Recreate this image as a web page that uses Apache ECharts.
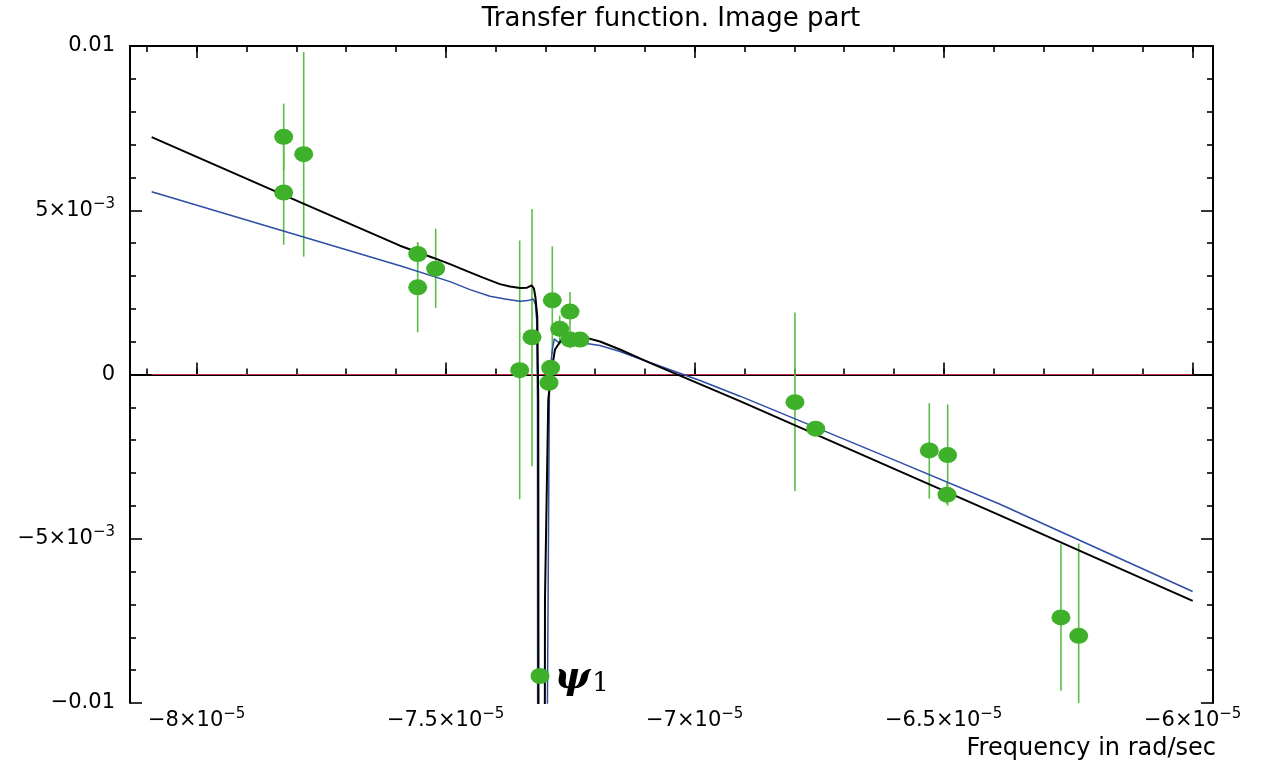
<!DOCTYPE html>
<html>
<head>
<meta charset="utf-8">
<script src="https://cdn.jsdelivr.net/npm/echarts@6/dist/echarts.min.js"></script>
<style>
  html, body { margin: 0; padding: 0; background: #ffffff; }
  #chart { width: 1262px; height: 764px; }
</style>
</head>
<body>
<div id="chart"></div>
<script>
// ---- axis ticks and labels -------------------------------------------------
const xTicks = [-8e-5, -7.5e-5, -7e-5, -6.5e-5, -6e-5];
const xTickMantissa = ['−8×10', '−7.5×10', '−7×10', '−6.5×10', '−6×10'];
const xTickExponent = ['−5', '−5', '−5', '−5', '−5'];
const yTicks = [-0.01, -0.005, 0, 0.005, 0.01];
const yTickMantissa = ['−0.01', '−5×10', '0', '5×10', '0.01'];
const yTickExponent = ['', '−3', '', '−3', ''];

// ---- measured transfer function (imaginary part) with error bars ------------
const measFreq = [-7.8253e-5, -7.8253e-5, -7.7851e-5, -7.5562e-5, -7.5562e-5, -7.5201e-5,
  -7.3514e-5, -7.3267e-5, -7.2859e-5, -7.2892e-5, -7.2926e-5, -7.2711e-5, -7.2504e-5,
  -7.2504e-5, -7.2303e-5, -7.3106e-5, -6.7986e-5, -6.7570e-5, -6.5289e-5, -6.4920e-5,
  -6.4934e-5, -6.2645e-5, -6.2289e-5];
const measIm = [7.234e-3, 5.541e-3, 6.708e-3, 3.669e-3, 2.653e-3, 3.222e-3,
  0.131e-3, 1.134e-3, 2.258e-3, 0.204e-3, -0.252e-3, 1.389e-3, 1.915e-3,
  1.064e-3, 1.064e-3, -9.179e-3, -0.842e-3, -1.650e-3, -2.310e-3, -2.453e-3,
  -3.657e-3, -7.395e-3, -7.954e-3];
const measLow = [6.201e-3, 3.951e-3, 3.587e-3, 3.313e-3, 1.286e-3, 2.027e-3,
  -3.799e-3, -2.796e-3, 0.617e-3, 0.204e-3, -0.252e-3, 0.912e-3, 1.277e-3,
  0.80e-3, 1.064e-3, -9.179e-3, -3.547e-3, -1.650e-3, -3.778e-3, -3.994e-3,
  -3.951e-3, -9.626e-3, -10.49e-3];
const measHigh = [8.246e-3, 7.143e-3, 9.818e-3, 4.021e-3, 4.021e-3, 4.438e-3,
  4.082e-3, 5.036e-3, 3.900e-3, 0.204e-3, -0.252e-3, 1.793e-3, 2.514e-3,
  1.30e-3, 1.064e-3, -9.179e-3, 1.884e-3, -1.650e-3, -0.872e-3, -0.912e-3,
  -3.300e-3, -5.167e-3, -5.146e-3];
const modeIndex = 15;          // measured point next to the ψ1 mode
const modeLabel = ['ψ', '1'];

// ---- model curves ------------------------------------------------------------
const blackFreq = [-8.0904e-5, -7.7926e-5, -7.5918e-5, -7.5255e-5, -7.4914e-5, -7.4572e-5,
  -7.4251e-5, -7.3910e-5, -7.3709e-5, -7.3508e-5, -7.3367e-5, -7.3273e-5, -7.3227e-5,
  -7.3197e-5, -7.3161e-5, -7.3141e-5, -7.3127e-5, -7.3026e-5, -7.3006e-5, -7.2940e-5,
  -7.2871e-5, -7.2805e-5, -7.2671e-5, -7.2438e-5, -7.2169e-5, -7.1902e-5, -7.1500e-5,
  -7.0898e-5, -6.9894e-5, -6.9090e-5, -6.3869e-5, -6.0e-5];
const blackIm = [7.225e-3, 5.249e-3, 3.921e-3, 3.556e-3, 3.359e-3, 3.146e-3,
  2.948e-3, 2.751e-3, 2.681e-3, 2.635e-3, 2.644e-3, 2.714e-3, 2.614e-3,
  2.340e-3, 1.772e-3, -0.760e-3, -30e-3, -30e-3, -6.84e-3, -0.760e-3,
  0.152e-3, 0.760e-3, 1.064e-3, 1.164e-3, 1.116e-3, 1.003e-3, 0.760e-3,
  0.356e-3, -0.292e-3, -0.812e-3, -4.286e-3, -6.891e-3];

const blueFreq = [-8.0904e-5, -7.5918e-5, -7.4914e-5, -7.4512e-5, -7.4110e-5, -7.3809e-5,
  -7.3508e-5, -7.3347e-5, -7.3241e-5, -7.3197e-5, -7.3173e-5, -7.3157e-5, -7.3147e-5,
  -7.3040e-5, -7.2916e-5, -7.2859e-5, -7.2819e-5, -7.2739e-5, -7.2444e-5, -7.1902e-5,
  -7.1500e-5, -7.0898e-5, -6.9894e-5, -6.9090e-5, -6.7886e-5, -6.5878e-5, -6.3869e-5,
  -6.1861e-5, -6.0e-5];
const blueIm = [5.562e-3, 3.313e-3, 2.827e-3, 2.584e-3, 2.380e-3, 2.295e-3,
  2.228e-3, 2.249e-3, 2.301e-3, 2.128e-3, 1.672e-3, -0.760e-3, -30e-3,
  -30e-3, -0.152e-3, 0.760e-3, 1.085e-3, 0.982e-3, 1.003e-3, 0.881e-3,
  0.699e-3, 0.365e-3, -0.182e-3, -0.660e-3, -1.413e-3, -2.675e-3, -3.951e-3,
  -5.328e-3, -6.605e-3];

const zeroFreq = [-8.0904e-5, -6.0e-5];
const zeroIm = [0, 0];

// ---- helpers -------------------------------------------------------------------
const xMin = -8.1339e-5, xMax = -5.9592e-5;
const xMinorTicks = [];
for (let k = -81; k <= -60; k++) xMinorTicks.push(k * 1e-6);

function nearestIndex(list, v) {
  let best = 0;
  for (let i = 1; i < list.length; i++) {
    if (Math.abs(list[i] - v) < Math.abs(list[best] - v)) best = i;
  }
  return best;
}
function powerLabel(mant, exp) {
  return exp ? '{m|' + mant + '}{e|' + exp + '}' : '{m|' + mant + '}';
}
const labelRich = {
  m: { fontFamily: 'DejaVu Sans', fontSize: 21, color: '#000', lineHeight: 28 },
  e: { fontFamily: 'DejaVu Sans', fontSize: 15, color: '#000', lineHeight: 15, verticalAlign: 'top' }
};
const pairs = (xs, ys) => xs.map((x, i) => [x, ys[i]]);

const frameLine = { show: true, lineStyle: { color: '#000', width: 2 } };

function xAxisDef(position, ticks, len, labels) {
  return {
    type: 'value', position: position, min: xMin, max: xMax,
    axisLine: frameLine,
    splitLine: { show: false },
    axisTick: { show: true, inside: true, length: len, customValues: ticks,
                lineStyle: { color: '#000', width: 1.6 } },
    axisLabel: labels ? {
      show: true, customValues: xTicks, margin: 4, rich: labelRich,
      formatter: v => { const i = nearestIndex(xTicks, v); return powerLabel(xTickMantissa[i], xTickExponent[i]); }
    } : { show: false }
  };
}
function yAxisDef(position, labels) {
  return {
    type: 'value', position: position, min: -0.01, max: 0.01, interval: 0.005,
    axisLine: frameLine,
    splitLine: { show: false },
    axisTick: { show: true, inside: true, length: 12, lineStyle: { color: '#000', width: 1.6 } },
    minorTick: { show: true, splitNumber: 5, length: 6, lineStyle: { color: '#000', width: 1.6 } },
    minorSplitLine: { show: false },
    axisLabel: labels ? {
      show: true, margin: 15, rich: labelRich,
      formatter: v => { const i = nearestIndex(yTicks, v); return powerLabel(yTickMantissa[i], yTickExponent[i]); }
    } : { show: false }
  };
}

const measData = measFreq.map((x, i) => {
  const item = { value: [x, measIm[i]] };
  if (i === modeIndex) {
    item.label = {
      show: true, position: 'right', distance: 5, offset: [0, 0],
      formatter: '{p|' + modeLabel[0] + '}{s|' + modeLabel[1] + '}',
      rich: {
        p: { fontFamily: 'DejaVu Serif', fontStyle: 'italic', fontWeight: 'bold', fontSize: 38, color: '#000', lineHeight: 42, verticalAlign: 'bottom' },
        s: { fontFamily: 'DejaVu Serif', fontSize: 26, color: '#000', lineHeight: 30, verticalAlign: 'bottom', padding: [0, 0, 0, 2] }
      }
    };
  }
  return item;
});
const barData = measFreq.map((x, i) => [x, measLow[i], measHigh[i]]);

const chart = echarts.init(document.getElementById('chart'), null, { renderer: 'canvas' });
chart.setOption({
  animation: false,
  backgroundColor: '#ffffff',
  grid: { left: 130, right: 49, top: 46, bottom: 61, containLabel: false },
  xAxis: [
    xAxisDef('bottom', xTicks, 12, true),
    xAxisDef('bottom', xMinorTicks, 6, false),
    xAxisDef('top', xTicks, 12, false),
    xAxisDef('top', xMinorTicks, 6, false)
  ],
  yAxis: [yAxisDef('left', true), yAxisDef('right', false)],
  graphic: [
    { type: 'text', x: 671, y: 6, style: { text: 'Transfer function. Image part', textAlign: 'center',
      fontFamily: 'DejaVu Sans', fontSize: 26, fill: '#000' } },
    { type: 'text', x: 1216, y: 737, style: { text: 'Frequency in rad/sec', textAlign: 'right',
      fontFamily: 'DejaVu Sans', fontSize: 24, fill: '#000' } }
  ],
  series: [
    {
      type: 'line', name: 'zero', data: pairs(zeroFreq, zeroIm), showSymbol: false,
      lineStyle: { color: '#c8283c', width: 1.2 }, z: 2, silent: true
    },
    {
      type: 'custom', name: 'error', data: barData, z: 3, silent: true,
      renderItem: (params, api) => {
        const lo = api.coord([api.value(0), api.value(1)]);
        const hi = api.coord([api.value(0), api.value(2)]);
        return {
          type: 'line', shape: { x1: lo[0], y1: lo[1], x2: hi[0], y2: hi[1] },
          style: { stroke: '#5cbf45', lineWidth: 1.6 }
        };
      },
      clip: true
    },
    {
      type: 'line', name: 'model A', data: pairs(blueFreq, blueIm), showSymbol: false, clip: true,
      lineStyle: { color: '#2d4ea6', width: 1.5 }, z: 4, silent: true
    },
    {
      type: 'line', name: 'model B', data: pairs(blackFreq, blackIm), showSymbol: false, clip: true,
      lineStyle: { color: '#000000', width: 2 }, z: 5, silent: true
    },
    {
      type: 'scatter', name: 'measured', data: measData, symbol: 'circle', symbolSize: [19, 16],
      itemStyle: { color: '#3fb02a', opacity: 1 }, z: 6, silent: true
    }
  ]
});
</script>
</body>
</html>
